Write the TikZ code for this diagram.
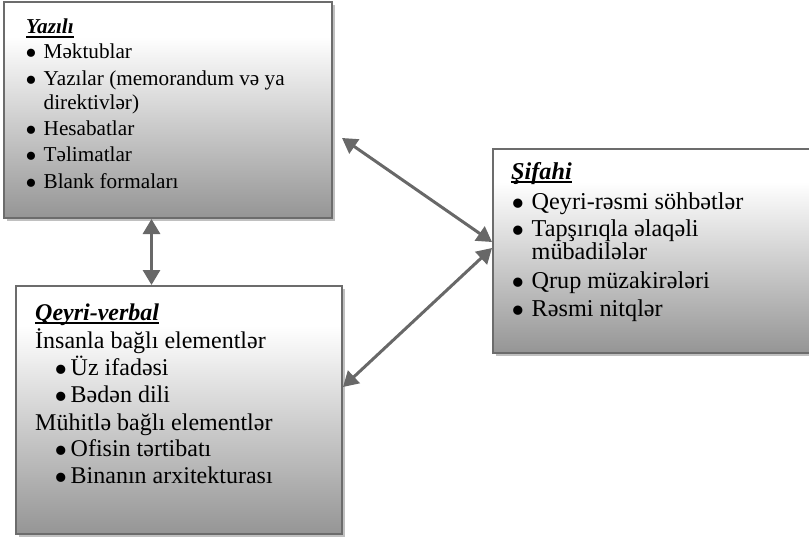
\documentclass[tikz,border=0pt]{standalone}
\usepackage{graphicx}
\usepackage{fontspec}
\setmainfont{Liberation Serif}
\usetikzlibrary{arrows.meta,shadows}

\definecolor{edgegray}{RGB}{108,108,108}
\definecolor{shadowgray}{RGB}{192,192,192}
\definecolor{fillbottom}{RGB}{149,149,149}
\definecolor{arrowgray}{RGB}{104,104,104}

% white along the top, then fading to gray towards the bottom
\pgfdeclareverticalshading{panelshade}{100bp}{color(0bp)=(fillbottom); color(25bp)=(fillbottom); color(67bp)=(white); color(100bp)=(white)}

% bold italic heading with a thick underline
\newcommand\hdr[1]{\setbox0\hbox{\bfseries\itshape #1}\rlap{\rule[-3.6pt]{\wd0}{1.8pt}}\box0}
% enlarged bullet set in a box of the given width
\newcommand\bul[1]{\makebox[#1][l]{\smash{\raisebox{-0.3em}{\scalebox{1.6}{•}}}}}

\tikzset{
  panel/.style={rectangle, anchor=north west, inner sep=0pt, draw=edgegray,
    line width=2pt, shading=panelshade,
    general shadow={fill=shadowgray, shadow xshift=3pt, shadow yshift=-3pt}},
  txt/.style={anchor=base west, inner sep=0pt},
  fa/.style={txt, font=\fontsize{21.2}{24}\selectfont},
  fb/.style={txt, font=\fontsize{24}{27}\selectfont},
  fc/.style={txt, font=\fontsize{24.2}{27}\selectfont},
  link/.style={draw=arrowgray, line width=3pt,
    {Triangle[length=15pt,width=17pt,fill=arrowgray]}-{Triangle[length=15pt,width=17pt,fill=arrowgray]}}
}

\begin{document}
\begin{tikzpicture}[x=1pt, y=-1pt]
\useasboundingbox (0,0) rectangle (809,538);

% panels
\node[panel, minimum width=328pt, minimum height=216pt] (written) at (3,1) {};
\node[panel, minimum width=326pt, minimum height=248pt] (nonverbal) at (15,285) {};
\node[panel, minimum width=322pt, minimum height=204pt] (oral) at (492,148) {};

% written
\node[fa] (w0) at (26,34) {\hdr{Yazılı}};
\node[fa] (w1) at (25,58.3) {\bul{18.5pt}Məktublar};
\node[fa] (w2) at (25,85) {\bul{18.5pt}Yazılar (memorandum və ya};
\node[fa] (w3) at (43.5,109.5) {direktivlər)};
\node[fa] (w4) at (25,135) {\bul{18.5pt}Hesabatlar};
\node[fa] (w5) at (25,161.5) {\bul{18.5pt}Təlimatlar};
\node[fa] (w6) at (25,188) {\bul{18.5pt}Blank formaları};

% non-verbal
\node[fb] (n0) at (35,320) {\hdr{Qeyri-verbal}};
\node[fb] (n1) at (35,348) {İnsanla bağlı elementlər};
\node[fb] (n2) at (54,375) {\bul{16.5pt}Üz ifadəsi};
\node[fb] (n3) at (54,402) {\bul{16.5pt}Bədən dili};
\node[fb] (n4) at (35,430) {Mühitlə bağlı elementlər};
\node[fb] (n5) at (54,456) {\bul{16.5pt}Ofisin tərtibatı};
\node[fb] (n6) at (54,483) {\bul{16.5pt}Binanın arxitekturası};

% oral
\node[fc] (o0) at (511,179.5) {\hdr{Şifahi}};
\node[fc] (o1) at (511.5,209) {\bul{20pt}Qeyri-rəsmi söhbətlər};
\node[fc] (o2) at (511.5,236.7) {\bul{20pt}Tapşırıqla əlaqəli};
\node[fc] (o3) at (531.5,259.3) {mübadilələr};
\node[fc] (o4) at (511.5,288) {\bul{20pt}Qrup müzakirələri};
\node[fc] (o5) at (511.5,316.5) {\bul{20pt}Rəsmi nitqlər};

% connectors
\coordinate (vx) at (151.5,0);
\coordinate (wfree) at (342,138);
\coordinate (oupper) at (492,242);
\coordinate (olower) at (492,248);
\coordinate (nside) at (342,387);
\draw[link] (written.south -| vx) -- (nonverbal.north -| vx);
\draw[link] (wfree) -- (oral.west |- oupper);
\draw[link] (oral.west |- olower) -- (nonverbal.east |- nside);
\end{tikzpicture}
\end{document}
